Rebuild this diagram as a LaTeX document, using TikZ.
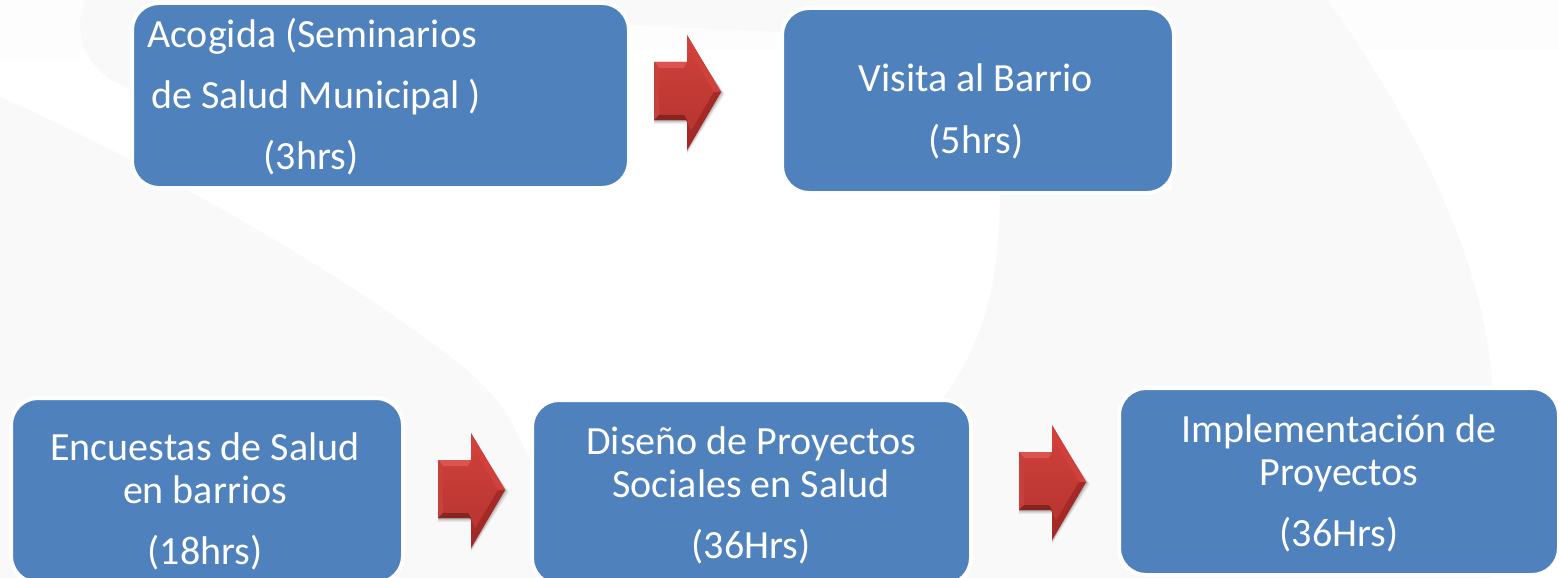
\documentclass[tikz,border=0pt]{standalone}
\usepackage{fontspec}
\setmainfont{Carlito}
\usetikzlibrary{calc}
\definecolor{boxblue}{HTML}{4F81BD}
\definecolor{bgsoft}{HTML}{F9F9FA}
\definecolor{bgfaint}{HTML}{FDFDFD}
\definecolor{arrowtop}{HTML}{CC3F3A}
\definecolor{arrowbot}{HTML}{B93530}
\definecolor{arrowlight}{HTML}{DC5450}
\definecolor{arrowleft}{HTML}{C8403B}
\definecolor{arrowupper}{HTML}{D2403C}
\definecolor{arrowlower}{HTML}{A32A26}
\definecolor{arrowdark}{HTML}{86251F}
\tikzset{
  x=1pt,y=-1pt,
  flowbox/.style={rectangle,rounded corners=27pt,fill=boxblue,draw=white,line width=4pt,
    minimum width=#1,minimum height=185pt,inner sep=0pt},
  boxtext/.style={text=white,font=\fontsize{40}{40}\selectfont,inner sep=0pt,anchor=base},
  boxtextleft/.style={boxtext,anchor=base west},
}
% block arrow: #1=left x, #2=top y of the head
\newcommand{\blockarrow}[2]{%
  \begin{scope}[shift={(#1,#2)}]
    \foreach \d/\o in {4/.05,3/.07,2/.09,1/.1}{
      \fill[black,opacity=\o] (1-\d*.3,27+\d) -- (33,27+\d) -- (33,\d) -- (67+\d,57+\d*.6) -- (33,115+\d) -- (33,85+\d) -- (1-\d*.3,85+\d) -- cycle;
    }
    \fill[arrowbot] (0,27) -- (33,27) -- (33,0) -- (67,57) -- (33,115) -- (33,85) -- (0,85) -- cycle;
    \shade[top color=arrowtop,bottom color=arrowbot] (5,33) -- (30,33) -- (37,18) -- (60,57) -- (37,96) -- (30,80) -- (5,80) -- cycle;
    \fill[arrowlight] (0,27) -- (33,27) -- (30,33) -- (5,33) -- cycle;
    \fill[arrowleft] (0,27) -- (5,33) -- (5,80) -- (0,85) -- cycle;
    \fill[arrowupper] (33,27) -- (33,0) -- (67,57) -- (60,57) -- (37,18) -- (30,33) -- cycle;
    \fill[arrowlower] (33,85) -- (33,115) -- (67,57) -- (60,57) -- (37,96) -- (30,80) -- cycle;
    \fill[arrowdark] (0,85) -- (33,85) -- (30,80) -- (5,80) -- cycle;
  \end{scope}}
\begin{document}
\begin{tikzpicture}
\useasboundingbox (0,0) rectangle (1559,578);
\fill[white] (0,0) rectangle (1559,578);
% soft background shapes
\fill[bgfaint] (0,0) rectangle (1559,50);
\fill[bgfaint] (0,0) rectangle (80,60);
\fill[bgsoft] (85,0) .. controls (72,35) and (85,75) .. (135,90) -- (627,25) -- (784,32) -- (1172,60) -- (1172,190)
  -- (1000,190) .. controls (1000,280) and (985,340) .. (944,397) -- (944,578) -- (1492,578) -- (1492,383)
  .. controls (1487,300) and (1450,170) .. (1327,0) -- cycle;
\fill[bgsoft] (0,97) .. controls (120,150) and (300,245) .. (446,353)
  .. controls (480,380) and (500,400) .. (510,420) -- (590,578) -- (0,578) -- cycle;
% boxes
\node[flowbox=497pt] (acogida) at (380.5,95.5) {};
\node[flowbox=392pt] (visita) at (978,100.5) {};
\node[flowbox=392pt] (encuestas) at (207,490.5) {};
\node[flowbox=439pt] (diseno) at (751.5,492.5) {};
\node[flowbox=440pt,minimum height=187pt] (implementacion) at (1339,481.5) {};
% texts
\node[boxtextleft] (t1a) at (147,48) {Acogida (Seminarios};
\node[boxtextleft] (t1b) at (151,108) {de Salud Municipal )};
\node[boxtext] (t1c) at (311,169) {(3hrs)};
\node[boxtext] (t2a) at (976,92) {Visita al Barrio};
\node[boxtext] (t2b) at (976,153) {(5hrs)};
\node[boxtext] (t3a) at (205,460) {Encuestas de Salud};
\node[boxtext] (t3b) at (205,503) {en barrios};
\node[boxtext] (t3c) at (205,564) {(18hrs)};
\node[boxtext] (t4a) at (751,454) {Diseño de Proyectos};
\node[boxtext] (t4b) at (751,497) {Sociales en Salud};
\node[boxtext] (t4c) at (751,558) {(36Hrs)};
\node[boxtext] (t5a) at (1339,442) {Implementación de};
\node[boxtext] (t5b) at (1339,485) {Proyectos};
\node[boxtext] (t5c) at (1339,546) {(36Hrs)};
% arrows
\blockarrow{654}{35}
\blockarrow{438}{433}
\blockarrow{1019}{425}
\end{tikzpicture}
\end{document}
